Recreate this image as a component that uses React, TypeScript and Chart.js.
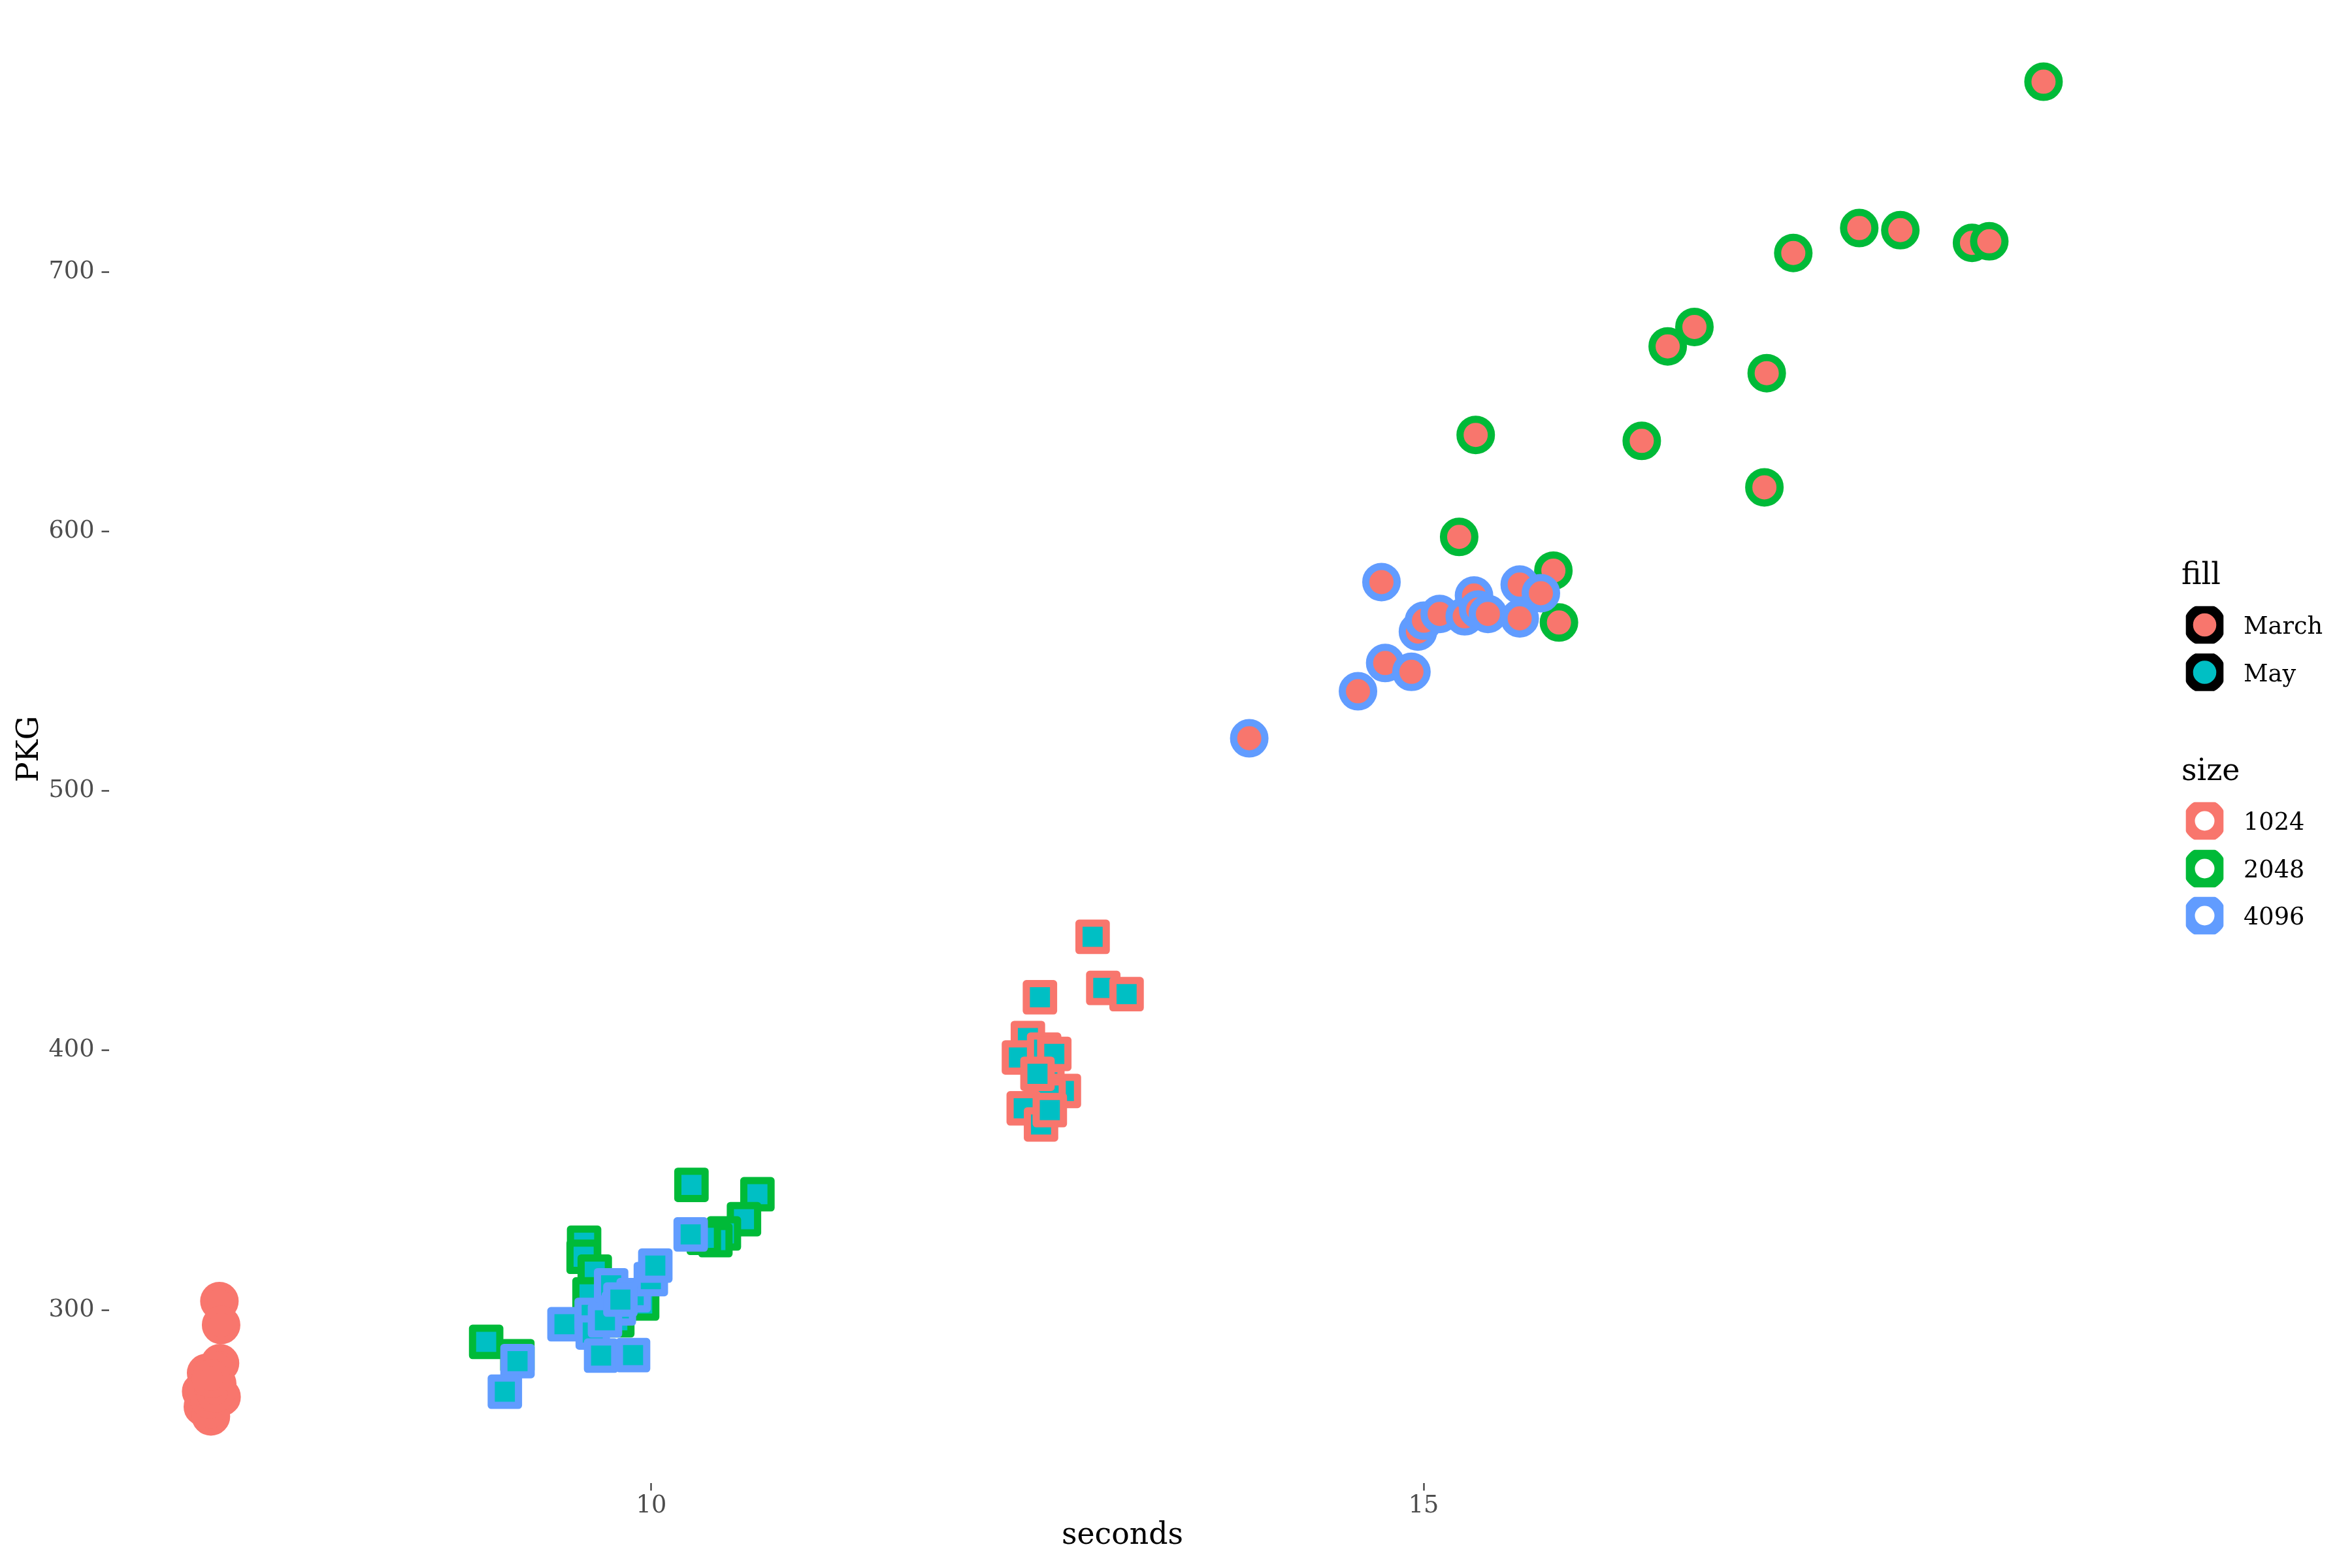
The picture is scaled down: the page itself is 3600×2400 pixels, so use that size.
import React, { useEffect, useRef } from "react";
import { Chart, registerables } from "chart.js";

Chart.register(...registerables);

// ---- data (seconds, PKG) ----
const march1024Sec = [7.204, 7.215, 7.208, 7.118, 7.086, 7.218, 7.097, 7.149, 7.16, 7.17, 7.14, 7.19, 7.12, 7.18, 7.15];
const march1024Pkg = [303.4, 294.2, 279.5, 275.7, 268.6, 266.5, 262.7, 259.0, 270.5, 276.5, 265.5, 271.5, 269.5, 268.0, 273.5];

const march2048Sec = [19.013, 17.82, 18.086, 18.55, 18.662, 17.393, 16.753, 16.58, 17.221, 16.412, 17.206, 15.337, 15.23, 15.84, 15.876];
const march2048Pkg = [773.3, 716.9, 716.1, 711.2, 711.8, 707.3, 678.8, 671.3, 661.0, 634.9, 617.0, 637.2, 597.9, 584.9, 564.9];

const march4096Sec = [13.871, 14.575, 14.727, 14.751, 14.921, 14.963, 15.002, 15.104, 15.266, 15.326, 15.353, 15.416, 15.622, 15.622, 15.759];
const march4096Pkg = [520.3, 538.4, 580.5, 549.3, 545.9, 561.4, 565.6, 568.2, 567.3, 575.3, 569.9, 568.2, 579.5, 566.5, 576.2];

const may1024Sec = [12.857, 12.926, 13.077, 12.516, 12.438, 12.38, 12.543, 12.609, 12.564, 12.671, 12.572, 12.411, 12.523, 12.5, 12.58];
const may1024Pkg = [443.8, 424.1, 421.7, 420.5, 404.8, 397.3, 400.3, 398.7, 387.7, 384.4, 382.6, 377.7, 371.5, 391.0, 377.0];

const may2048Sec = [8.931, 9.133, 9.565, 9.562, 9.634, 9.617, 9.941, 10.26, 10.687, 10.6, 10.47, 10.415, 10.34, 9.6, 9.78];
const may2048Pkg = [287.7, 282.2, 325.9, 320.5, 314.8, 301.8, 302.5, 348.2, 344.6, 335.0, 329.5, 326.9, 327.8, 306.0, 296.0];

const may4096Sec = [9.134, 9.052, 9.438, 9.614, 9.621, 9.675, 9.882, 9.74, 9.79, 9.886, 9.997, 10.026, 10.255, 9.7, 9.8];
const may4096Pkg = [280.3, 268.5, 294.5, 298.1, 291.3, 282.4, 282.6, 309.5, 300.6, 305.7, 311.9, 317.1, 329.1, 296.0, 304.0];

const xTicks = [10, 15];
const yTicks = [300, 400, 500, 600, 700];
const fillLabels = ["March", "May"];
const sizeLabels = ["1024", "2048", "4096"];

const FONT = "'DejaVu Serif', serif";
const RED = "#F8766D";
const GREEN = "#00BA38";
const BLUE = "#619CFF";
const CYAN = "#00BFC4";
const fillColors = [RED, CYAN];
const sizeColors = [RED, GREEN, BLUE];

const pts = (xs: number[], ys: number[]) => xs.map((x, i) => ({ x, y: ys[i] }));

const legendPlugin = {
  id: "ggLegend",
  afterDraw(chart: any) {
    const ctx = chart.ctx as CanvasRenderingContext2D;
    ctx.save();
    const kx = 3374.5;
    const half = 28.8;
    const drawKey = (cy: number, stroke: string, fill: string | null, r: number, lw: number) => {
      ctx.save();
      ctx.beginPath();
      ctx.rect(kx - half, cy - half, half * 2, half * 2);
      ctx.clip();
      ctx.beginPath();
      ctx.arc(kx, cy, r, 0, Math.PI * 2);
      ctx.fillStyle = fill ? fill : "#FFFFFF";
      ctx.fill();
      ctx.lineWidth = lw;
      ctx.strokeStyle = stroke;
      ctx.stroke();
      ctx.restore();
    };
    ctx.fillStyle = "#000000";
    ctx.textAlign = "left";
    ctx.textBaseline = "alphabetic";
    ctx.font = `45.8px ${FONT}`;
    ctx.fillText("fill", 3339, 893.5);
    ctx.fillText("size", 3339, 1193.5);
    const fillY = [956.5, 1029];
    fillLabels.forEach((lab, i) => {
      drawKey(fillY[i], "#000000", fillColors[i], 25, 14.4);
      ctx.fillStyle = "#000000";
      ctx.font = `36.7px ${FONT}`;
      ctx.fillText(lab, 3434, fillY[i] + 13.5);
    });
    const sizeY = [1256.5, 1329.5, 1401.5];
    sizeLabels.forEach((lab, i) => {
      drawKey(sizeY[i], sizeColors[i], null, 24, 18);
      ctx.fillStyle = "#000000";
      ctx.font = `36.7px ${FONT}`;
      ctx.fillText(lab, 3434, sizeY[i] + 13.5);
    });
    ctx.restore();
  },
};

const roundJoinPlugin = {
  id: "roundJoin",
  beforeDatasetsDraw(chart: any) {
    chart.ctx.lineJoin = "round";
  },
};

export default function App() {
  const ref = useRef<HTMLCanvasElement | null>(null);
  useEffect(() => {
    document.body.style.margin = "0";
    const canvas = ref.current;
    if (!canvas) return;
    const circle = { pointStyle: "circle", pointRadius: 24, borderWidth: 11 };
    const square = { pointStyle: "rect", pointRadius: 29.5, borderWidth: 11 };
    const chart = new Chart(canvas, {
      type: "scatter",
      data: {
        datasets: [
          { label: "May 4096", data: pts(may4096Sec, may4096Pkg), backgroundColor: CYAN, borderColor: BLUE, ...square },
          { label: "March 4096", data: pts(march4096Sec, march4096Pkg), backgroundColor: RED, borderColor: BLUE, ...circle },
          { label: "May 2048", data: pts(may2048Sec, may2048Pkg), backgroundColor: CYAN, borderColor: GREEN, ...square },
          { label: "March 2048", data: pts(march2048Sec, march2048Pkg), backgroundColor: RED, borderColor: GREEN, ...circle },
          { label: "May 1024", data: pts(may1024Sec, may1024Pkg), backgroundColor: CYAN, borderColor: RED, ...square },
          { label: "March 1024", data: pts(march1024Sec, march1024Pkg), backgroundColor: RED, borderColor: RED, ...circle },
        ] as any,
      },
      options: {
        animation: false,
        responsive: false,
        maintainAspectRatio: false,
        devicePixelRatio: 1,
        layout: { autoPadding: false, padding: { left: 0, right: 331, top: 23, bottom: 0 } },
        plugins: { legend: { display: false }, tooltip: { enabled: false } },
        elements: { point: { hoverRadius: 24 } },
        scales: {
          x: {
            type: "linear",
            min: 6.49,
            max: 19.61,
            afterBuildTicks: (s: any) => {
              s.ticks = xTicks.map((v) => ({ value: v }));
            },
            afterFit: (s: any) => {
              s.height = 130;
              s.paddingLeft = 0;
              s.paddingRight = 0;
              s.paddingTop = 0;
              s.paddingBottom = 0;
            },
            grid: { display: true, drawOnChartArea: false, drawTicks: true, tickLength: 11.5, tickWidth: 2.2, tickColor: "#333333" },
            border: { display: false },
            ticks: { color: "#4D4D4D", font: { family: FONT, size: 36.7 }, padding: 2, maxRotation: 0, autoSkip: false },
            title: { display: true, text: "seconds", color: "#000000", font: { family: FONT, size: 45.8 }, padding: { top: 0, bottom: 21.5 } },
          },
          y: {
            type: "linear",
            min: 233.3,
            max: 799.0,
            afterBuildTicks: (s: any) => {
              s.ticks = yTicks.map((v) => ({ value: v }));
            },
            afterFit: (s: any) => {
              s.width = 167;
              s.paddingLeft = 0;
              s.paddingRight = 0;
              s.paddingTop = 0;
              s.paddingBottom = 0;
            },
            grid: { display: true, drawOnChartArea: false, drawTicks: true, tickLength: 11.5, tickWidth: 2.2, tickColor: "#333333" },
            border: { display: false },
            ticks: { color: "#4D4D4D", font: { family: FONT, size: 36.7 }, padding: 11, autoSkip: false },
            title: { display: true, text: "PKG", color: "#000000", font: { family: FONT, size: 45.8 }, padding: { top: 19, bottom: 0 } },
          },
        },
      } as any,
      plugins: [roundJoinPlugin, legendPlugin],
    });
    return () => chart.destroy();
  }, []);
  return (
    <div style={{ position: "absolute", left: 0, top: 0, width: 3600, height: 2400, background: "#FFFFFF" }}>
      <canvas ref={ref} width={3600} height={2400} style={{ width: 3600, height: 2400, display: "block" }} />
    </div>
  );
}
